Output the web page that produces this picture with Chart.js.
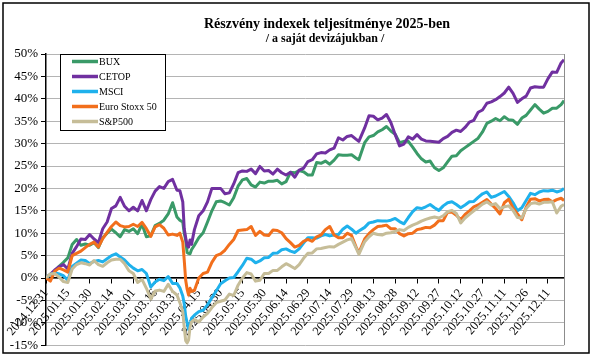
<!DOCTYPE html>
<html><head><meta charset="utf-8">
<script src="https://cdn.jsdelivr.net/npm/chart.js@4"></script>
<style>html,body{margin:0;padding:0;background:#fff}#wrap{width:598px;height:356px}</style>
</head><body><div id="wrap"><canvas id="c" width="598" height="356"></canvas></div>
<script>
const chartTitle = 'Részvény indexek teljesítménye 2025-ben';
const chartSubtitle = '/ a saját devizájukban /';
const seriesNames = ['BUX', 'CETOP', 'MSCI', 'Euro Stoxx 50', 'S&P500'];
const startDate = '2024.12.31';
const tickLabels = ['2024.12.31','2025.01.15','2025.01.30','2025.02.14','2025.03.01','2025.03.16','2025.03.31','2025.04.15','2025.04.30','2025.05.15','2025.05.30','2025.06.14','2025.06.29','2025.07.14','2025.07.29','2025.08.13','2025.08.28','2025.09.12','2025.09.27','2025.10.12','2025.10.27','2025.11.11','2025.11.26','2025.12.11'];
// days since 2024.12.31
const days = [0,3,6,9,12,15,18,21,24,27,30,33,36,39,42,45,48,51,54,57,60,63,66,69,72,75,78,81,84,87,
90,92,94,95,96,97,98,99,100,102,
105,108,111,114,117,120,123,126,129,132,135,138,141,144,147,150,153,156,159,162,165,168,171,174,177,180,183,186,189,192,195,198,201,204,207,210,213,
215,
219,222,225,228,231,234,237,240,243,246,249,252,255,258,261,264,267,270,273,276,279,282,285,288,291,294,297,300,303,306,309,312,315,318,321,324,327,330,333,336,339,342,345,348,351,354,
356];
const bux = [0,0.8,1.5,2.6,3.5,4.5,7.5,8.6,7.3,7.6,7.3,7.9,6.8,9.0,10.0,10.9,10.1,9.2,10.8,10.4,11.0,9.9,12.0,9.2,9.4,11.7,12.2,12.9,14.3,16.8,
13.6,12.9,12.5,10.0,8.5,5.7,5.5,5.4,6.3,7.3,
9.0,10.1,12.5,15.0,17.0,17.2,16.8,16.3,17.9,20.5,21.9,22.2,20.8,20.3,21.4,21.2,21.6,21.6,21.8,21.0,21.5,23.6,23.5,24.0,23.7,23.0,23.0,25.8,25.6,26.1,25.4,26.3,27.5,27.4,27.4,27.5,26.8,
26.4,
30.2,31.5,31.8,32.6,33.1,33.8,32.8,32.1,30.2,30.5,30.5,29.2,27.8,26.6,25.9,26.1,24.6,24.0,24.6,25.9,27.2,27.3,28.4,29.1,29.8,30.5,31.2,32.6,34.5,35.0,35.6,35.1,36.0,35.3,35.2,34.3,35.7,36.3,37.5,38.7,37.7,36.8,37.2,37.9,37.9,38.7,
39.6];
const cetop = [0,0.8,1.8,2.5,3.0,2.0,5.5,7.0,8.7,8.6,9.7,8.7,7.9,11.0,12.5,15.5,16.1,18.0,16.0,15.0,15.8,15.0,17.3,15.0,17.5,19.4,20.4,20.0,21.5,22.0,
19.6,19.5,17.0,11.0,9.0,7.2,6.9,8.5,7.5,10.8,
13.9,15.0,17.0,20.0,20.0,20.0,18.8,19.0,21.0,23.5,23.9,23.8,24.3,23.3,24.9,23.9,24.0,23.2,24.3,23.5,23.0,23.6,22.5,24.1,24.5,26.0,26.4,27.7,28.0,27.9,28.6,29.0,31.3,30.8,31.6,31.8,31.0,
30.5,
33.5,36.2,36.1,35.3,35.7,36.5,34.7,32.0,29.5,29.9,31.5,31.0,32.0,31.0,30.6,30.5,30.4,30.3,31.1,31.6,32.5,33.0,32.7,33.6,34.8,35.2,37.0,37.5,39.0,39.3,39.8,40.5,41.3,42.6,41.2,39.2,40.0,40.6,42.4,42.7,42.6,42.6,44.5,46.0,45.9,48.0,
48.7];
const msci = [0,0.8,1.2,0.9,0.5,-0.5,2.6,3.3,4.0,3.9,3.2,3.7,3.9,3.6,4.3,5.0,5.4,4.7,4.0,3.0,2.2,1.6,1.9,1.0,-2.0,-0.9,-0.3,-0.6,0.3,-1.2,
-1.2,-2.2,-4.0,-5.8,-8.5,-10.0,-11.5,-10.5,-9.0,-8.3,
-7.5,-7.2,-6.0,-4.4,-2.9,-1.3,-0.6,0.0,0.1,1.4,2.8,4.4,4.2,3.4,3.8,4.5,4.6,5.5,5.6,6.3,6.5,6.0,5.7,6.5,7.8,9.0,9.0,8.9,9.4,9.7,9.4,9.6,9.7,10.9,11.6,10.9,10.0,
10.5,
11.3,12.3,12.5,12.8,12.7,12.7,12.9,13.3,12.6,12.1,13.5,14.8,15.7,15.5,15.9,16.4,15.7,15.1,16.1,16.8,17.0,16.4,15.7,16.3,17.0,17.1,18.0,18.8,19.2,18.0,18.3,18.8,19.3,18.2,16.8,15.0,15.7,17.3,18.9,18.6,19.2,19.5,19.4,19.6,19.2,19.5,
20.0];
const stoxx50 = [0,-0.7,1.5,2.2,1.8,1.3,5.0,5.5,6.0,6.8,7.5,8.0,6.9,8.8,10.2,11.5,12.5,11.7,11.4,11.5,12.0,11.5,12.4,11.0,9.3,11.4,11.9,11.1,9.6,9.8,
9.5,10.0,8.0,4.0,-0.5,-2.5,-3.8,-2.3,-3.0,-2.8,
0.0,1.0,1.3,3.5,5.0,5.4,6.2,7.5,8.6,10.6,10.7,10.8,11.5,9.5,10.4,9.6,9.5,10.7,10.6,10.1,8.8,7.9,6.9,7.3,8.2,8.6,8.2,9.2,9.6,10.8,11.5,9.6,9.0,9.0,10.0,9.5,7.0,
5.6,
8.7,9.9,10.8,11.5,11.6,11.8,11.0,11.0,9.9,9.4,9.9,10.0,10.8,11.0,11.3,11.2,11.8,12.8,12.8,14.7,14.7,14.0,13.0,14.2,15.0,15.9,16.3,16.9,17.5,16.5,15.5,14.3,16.8,17.6,15.6,14.3,13.0,15.8,17.6,17.7,17.2,17.5,17.6,17.0,17.5,17.8,
17.3];
const sp500 = [0,0.9,1.0,0.2,-0.8,-1.0,2.0,3.0,3.4,3.2,2.9,3.9,3.0,2.6,3.4,4.0,4.2,4.2,3.2,1.6,1.0,-1.0,-0.3,-2.3,-4.7,-2.9,-2.7,-3.0,-1.4,-3.0,
-3.8,-5.5,-7.5,-11.0,-14.0,-14.5,-13.8,-11.0,-9.8,-9.3,
-9.8,-8.7,-7.9,-6.6,-5.5,-5.2,-4.9,-3.6,-3.9,-1.6,0.0,1.2,0.9,-0.7,-0.5,1.0,1.0,1.7,1.7,2.5,3.2,2.7,2.1,3.0,4.4,5.5,5.6,6.5,6.6,6.8,7.0,6.9,7.5,8.0,8.5,8.8,6.8,
5.3,
8.1,9.2,10.0,9.7,9.6,10.0,10.1,10.4,10.8,10.6,11.3,11.8,12.2,12.7,13.1,13.4,13.6,13.4,13.9,14.8,15.1,14.4,12.3,13.4,14.2,15.0,15.7,16.5,17.0,16.3,16.6,15.5,15.9,16.1,15.1,13.5,13.4,15.5,16.6,16.8,16.5,16.9,16.9,17.0,14.5,16.0,
16.4];
const yMin = -15, yMax = 50, yStep = 5;

function dayOf(label) {
  const p = label.split('.').map(Number);
  const s = startDate.split('.').map(Number);
  return Math.round((Date.UTC(p[0], p[1]-1, p[2]) - Date.UTC(s[0], s[1]-1, s[2])) / 86400000);
}
const tickDays = tickLabels.map(dayOf);

const colors = ['#3a9a68', '#7030a0', '#1fb1ec', '#f26f1c', '#c6bd98'];
const seriesValues = [bux, cetop, msci, stoxx50, sp500];
const SERIF = '"Liberation Serif", "Times New Roman", serif';

const decor = {
  id: 'decor',
  beforeDatasetsDraw(chart) {
    const {ctx, chartArea: a} = chart;
    ctx.save();
    ctx.strokeStyle = '#8c8c8c';
    ctx.lineWidth = 1;
    ctx.beginPath();
    ctx.moveTo(a.right + 0.5, a.top);
    ctx.lineTo(a.right + 0.5, a.bottom);
    ctx.stroke();
    ctx.restore();
  },
  afterDraw(chart) {
    const ctx = chart.ctx;
    ctx.save();
    ctx.fillStyle = '#000';
    ctx.textAlign = 'center';
    ctx.textBaseline = 'alphabetic';
    ctx.font = 'bold 14px ' + SERIF;
    ctx.fillText(chartTitle, 327, 28);
    ctx.font = 'bold 12px ' + SERIF;
    ctx.fillText(chartSubtitle, 325, 42);
    ctx.fillStyle = '#fff';
    ctx.fillRect(60, 54, 106, 76);
    ctx.strokeStyle = '#000';
    ctx.lineWidth = 1;
    ctx.strokeRect(60.5, 54.5, 105, 76);
    ctx.textAlign = 'left';
    ctx.textBaseline = 'middle';
    ctx.font = '10px ' + SERIF;
    chart.data.datasets.forEach((ds, i) => {
      const y = 61.5 + 15 * i;
      ctx.strokeStyle = ds.borderColor;
      ctx.lineWidth = 3.5;
      ctx.beginPath();
      ctx.moveTo(72, y);
      ctx.lineTo(98, y);
      ctx.stroke();
      ctx.fillStyle = '#000';
      ctx.fillText(ds.label, 99, y + 0.5);
    });
    ctx.strokeStyle = '#000';
    ctx.lineWidth = 1.5;
    ctx.strokeRect(3, 3, 586, 350);
    ctx.restore();
  }
};

new Chart(document.getElementById('c'), {
  type: 'line',
  data: {
    datasets: seriesNames.map((name, i) => ({
      label: name,
      data: days.map((d, j) => ({x: d, y: seriesValues[i][j]})),
      borderColor: colors[i],
      backgroundColor: colors[i],
      borderWidth: 3,
      pointRadius: 0,
      tension: 0,
      borderJoinStyle: 'round',
      fill: false,
      order: seriesNames.length - i
    }))
  },
  options: {
    responsive: false,
    devicePixelRatio: 1,
    animation: false,
    layout: {padding: {left: 6, right: 34, top: 54, bottom: 10}},
    plugins: {legend: {display: false}, title: {display: false}, tooltip: {enabled: false}},
    scales: {
      x: {
        type: 'linear',
        position: {y: 0},
        min: 0,
        max: days[days.length - 1],
        afterBuildTicks: s => { s.ticks = tickDays.map(v => ({value: v})); },
        afterFit: s => { s.height = 0; },
        grid: {drawOnChartArea: false, drawTicks: true, tickLength: 5, tickColor: '#000', tickWidth: 1},
        border: {display: true, color: '#000', width: 1.5},
        ticks: {
          autoSkip: false,
          minRotation: 50,
          maxRotation: 50,
          padding: 3,
          color: '#000',
          font: {family: SERIF, size: 12.5},
          callback: (v) => { const k = tickDays.indexOf(v); return k >= 0 ? tickLabels[k] : ''; }
        }
      },
      y: {
        min: yMin,
        max: yMax,
        afterFit: s => { s.width = 40; },
        grid: {color: '#b4b4b4', lineWidth: 1, drawTicks: true, tickLength: 5, tickColor: '#000'},
        border: {display: true, color: '#000', width: 1.5},
        ticks: {
          stepSize: yStep,
          padding: 3,
          color: '#000',
          font: {family: SERIF, size: 13},
          callback: v => v + '%'
        }
      }
    }
  },
  plugins: [decor]
});
</script>
</body></html>
